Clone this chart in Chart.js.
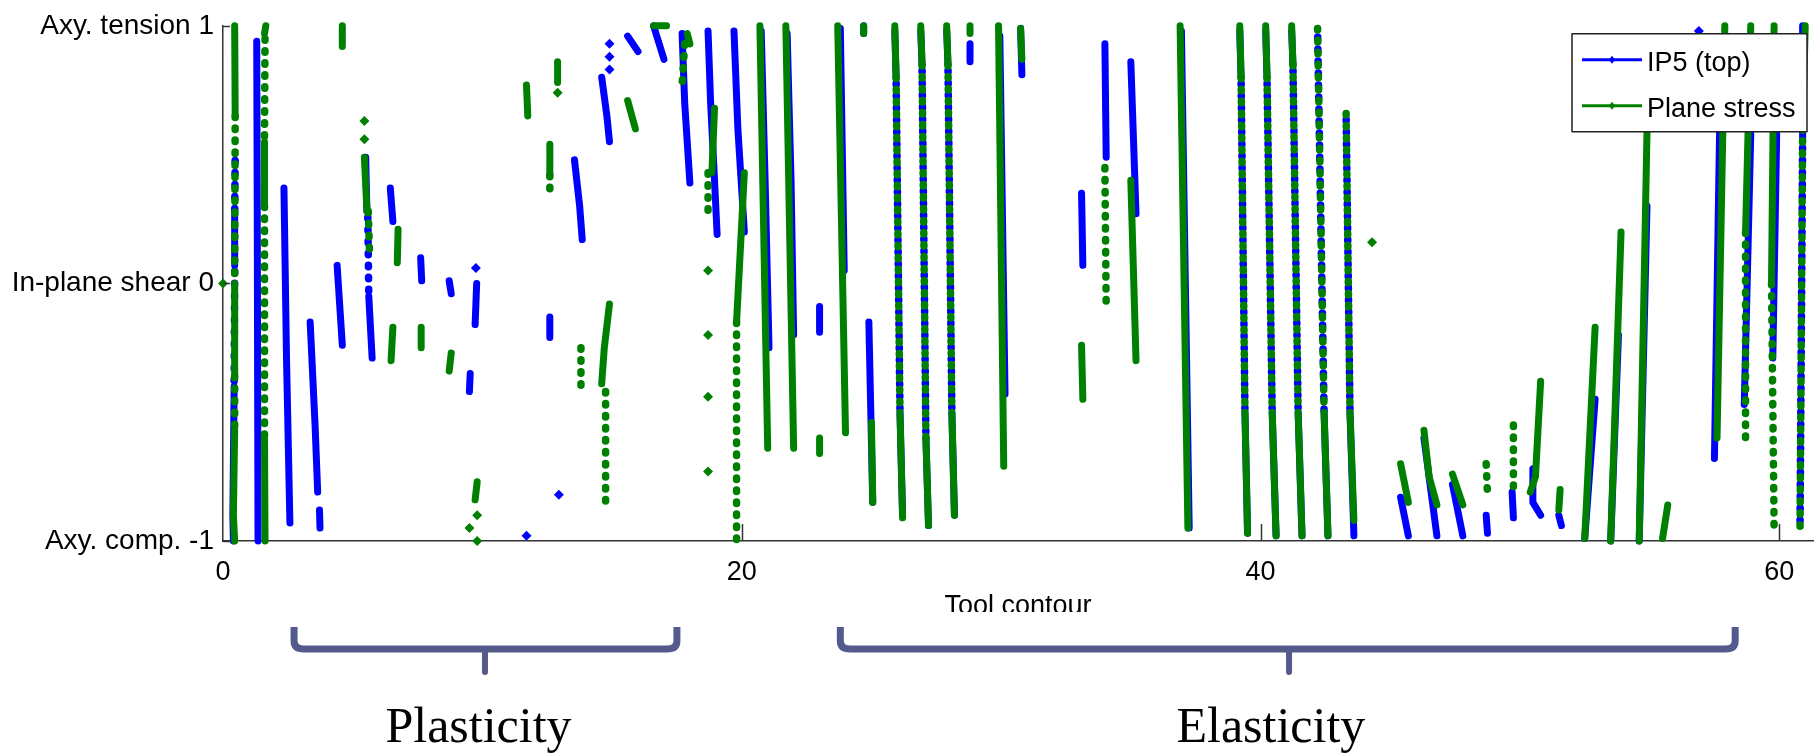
<!DOCTYPE html>
<html>
<head>
<meta charset="utf-8">
<title>IP5 vs plane stress along the tool contour</title>
<script src="https://cdn.jsdelivr.net/npm/chart.js@4.4.0/dist/chart.umd.min.js"></script>
<style>
  html, body { margin: 0; padding: 0; background: #fff; }
  #wrap { width: 1820px; height: 753px; position: relative; }
</style>
</head>
<body>
<div id="wrap"><canvas id="stressChart"></canvas></div>
<script>
// axis ticks
const xTicks = [0, 20, 40, 60];
const yTicks = [-1, 0, 1];
const yTickLabels = ['Axy. comp. -1', 'In-plane shear 0', 'Axy. tension 1'];
const seriesNames = ['IP5 (top)', 'Plane stress'];

// regions marked under the axis
const regionNames = ['Plasticity', 'Elasticity'];
const regionFrom = [2.74, 23.8];
const regionTo = [17.5, 58.3];
const regionTip = [10.1, 41.1];
const regionLabelX = [9.85, 40.4];

// IP5 (top): streaks, [contour, stress state]
const ip5Dense = [
  [[0.45, 0.27], [0.45, 0.07]],
  [[0.43, -0.4], [0.38, -0.9], [0.4, -1.0]],
  [[1.3, 0.94], [1.32, 0.3], [1.35, -1.0]],
  [[2.35, 0.37], [2.45, -0.3], [2.58, -0.93]],
  [[3.36, -0.15], [3.55, -0.55], [3.65, -0.81]],
  [[3.72, -0.88], [3.74, -0.95]],
  [[4.4, 0.07], [4.6, -0.24]],
  [[5.5, 0.49], [5.55, 0.28]],
  [[5.62, -0.05], [5.75, -0.29]],
  [[6.45, 0.37], [6.55, 0.24]],
  [[7.62, 0.1], [7.66, 0.01]],
  [[8.72, 0.01], [8.8, -0.04]],
  [[9.78, 0.0], [9.72, -0.16]],
  [[9.53, -0.35], [9.5, -0.42]],
  [[12.6, -0.13], [12.6, -0.21]],
  [[13.55, 0.48], [13.75, 0.3], [13.85, 0.17]],
  [[14.6, 0.8], [14.8, 0.65], [14.9, 0.55]],
  [[15.6, 0.96], [16.0, 0.9]],
  [[16.6, 1.0], [17.0, 0.87]],
  [[17.7, 0.97], [17.8, 0.7], [18.0, 0.39]],
  [[18.7, 0.98], [18.8, 0.7], [18.95, 0.4], [19.05, 0.19]],
  [[19.7, 0.98], [19.85, 0.6], [20.1, 0.2]],
  [[20.75, 0.98], [20.9, 0.4], [21.05, -0.25]],
  [[21.75, 0.97], [21.9, 0.4], [22.0, -0.2]],
  [[23.0, -0.09], [23.0, -0.19]],
  [[23.8, 0.99], [23.95, 0.05]],
  [[24.7, 1.0], [24.7, 0.97]],
  [[24.9, -0.15], [25.05, -0.85]],
  [[25.9, 0.98], [25.95, 0.8]], [[26.1, -0.5], [26.2, -0.9]],
  [[26.9, 0.98], [26.95, 0.85]], [[27.1, -0.6], [27.2, -0.94]],
  [[27.9, 0.98], [27.95, 0.85]], [[28.1, -0.5], [28.2, -0.9]],
  [[28.8, 0.93], [28.8, 0.86]],
  [[29.95, 0.96], [30.15, -0.43]],
  [[30.75, 0.99], [30.8, 0.81]],
  [[33.1, 0.35], [33.15, 0.07]],
  [[34.0, 0.93], [34.05, 0.49]],
  [[35.0, 0.86], [35.2, 0.27]],
  [[36.95, 0.98], [37.25, -0.95]],
  [[39.2, 0.98], [39.25, 0.8]], [[39.4, -0.5], [39.5, -0.97]],
  [[40.2, 0.98], [40.25, 0.8]], [[40.45, -0.5], [40.6, -0.98]],
  [[41.2, 0.98], [41.25, 0.85]], [[41.45, -0.5], [41.6, -0.98]],
  [[42.45, -0.5], [42.6, -0.98]],
  [[43.45, -0.5], [43.6, -0.98]],
  [[45.4, -0.83], [45.7, -0.98]],
  [[46.3, -0.6], [46.8, -0.98]],
  [[47.4, -0.78], [47.8, -0.98]],
  [[48.7, -0.9], [48.75, -0.97]],
  [[49.7, -0.81], [49.75, -0.91]],
  [[50.5, -0.72], [50.5, -0.85], [50.8, -0.9]],
  [[51.5, -0.9], [51.6, -0.94]],
  [[52.9, -0.45], [52.5, -0.99]],
  [[53.8, -0.2], [53.5, -1.0]],
  [[54.9, 0.3], [54.6, -1.0]],
  [[57.7, 0.6], [57.5, -0.68]],
  [[58.9, 0.58], [58.65, -0.47]],
  [[59.9, 0.58], [59.75, -0.29]],
  [[60.9, 1.0], [60.9, 0.55]]
];
const ip5Sparse = [
  [[0.47, 0.5], [0.45, 0.27]],
  [[0.45, 0.07], [0.43, -0.4]],
  [[5.58, 0.28], [5.62, -0.05]],
  [[25.95, 0.8], [26.1, -0.5]],
  [[26.95, 0.85], [27.1, -0.6]],
  [[27.95, 0.85], [28.1, -0.5]],
  [[39.25, 0.8], [39.4, -0.5]],
  [[40.25, 0.8], [40.45, -0.5]],
  [[41.25, 0.85], [41.45, -0.5]],
  [[42.2, 0.98], [42.45, -0.5]],
  [[43.3, 0.66], [43.45, -0.5]],
  [[60.9, 0.55], [60.8, -0.95]]
];
const ip5Dots = [[9.75, 0.06], [11.7, -0.98], [12.95, -0.82], [14.9, 0.93], [14.9, 0.88], [14.9, 0.83], [56.9, 0.98]];

// Plane stress
const psDense = [
  [[0.45, 1.0], [0.47, 0.65]],
  [[0.45, 0.0], [0.45, -0.36]],
  [[0.45, -0.57], [0.4, -0.9], [0.45, -1.0]],
  [[1.65, 1.0], [1.6, 0.97]],
  [[1.6, 0.55], [1.6, 0.3]],
  [[1.6, -0.6], [1.62, -1.0]],
  [[4.6, 1.0], [4.6, 0.92]],
  [[5.45, 0.49], [5.55, 0.28]],
  [[6.75, 0.21], [6.72, 0.08]],
  [[6.55, -0.17], [6.48, -0.3]],
  [[7.64, -0.17], [7.64, -0.25]],
  [[8.8, -0.27], [8.72, -0.34]],
  [[9.8, -0.77], [9.72, -0.84]],
  [[11.7, 0.77], [11.75, 0.65]],
  [[12.9, 0.86], [12.9, 0.78]],
  [[12.6, 0.54], [12.6, 0.42]],
  [[14.9, -0.08], [14.7, -0.25], [14.6, -0.39]],
  [[15.6, 0.71], [15.9, 0.6]],
  [[16.6, 1.0], [17.1, 1.0]],
  [[17.9, 0.97], [18.0, 0.93]],
  [[18.95, 0.68], [18.85, 0.43]],
  [[20.1, 0.43], [19.8, -0.15]],
  [[20.7, 1.0], [21.0, -0.64]],
  [[21.7, 1.0], [22.0, -0.64]],
  [[23.0, -0.6], [23.0, -0.66]],
  [[23.7, 1.0], [24.0, -0.58]],
  [[24.7, 1.0], [24.7, 0.97]],
  [[25.0, -0.54], [25.05, -0.85]],
  [[25.9, 1.0], [25.95, 0.8]], [[26.1, -0.5], [26.2, -0.91]],
  [[26.9, 1.0], [26.95, 0.85]], [[27.1, -0.6], [27.2, -0.94]],
  [[27.9, 1.0], [27.95, 0.85]], [[28.1, -0.5], [28.2, -0.9]],
  [[28.8, 1.0], [28.8, 0.97]],
  [[29.9, 1.0], [30.1, -0.71]],
  [[30.75, 0.99], [30.8, 0.87]],
  [[33.1, -0.24], [33.15, -0.45]],
  [[35.0, 0.4], [35.2, -0.3]],
  [[36.9, 1.0], [37.2, -0.95]],
  [[39.2, 1.0], [39.25, 0.8]], [[39.4, -0.5], [39.5, -0.97]],
  [[40.2, 1.0], [40.25, 0.8]], [[40.45, -0.5], [40.6, -0.98]],
  [[41.2, 1.0], [41.25, 0.85]], [[41.45, -0.5], [41.6, -0.98]],
  [[42.45, -0.5], [42.6, -0.98]],
  [[43.45, -0.5], [43.6, -0.92]],
  [[45.4, -0.7], [45.7, -0.85]],
  [[46.3, -0.57], [46.5, -0.75], [46.8, -0.86]],
  [[47.4, -0.74], [47.8, -0.86]],
  [[50.8, -0.38], [50.6, -0.75], [50.4, -0.81]],
  [[51.55, -0.8], [51.5, -0.88]],
  [[52.9, -0.17], [52.5, -0.99]],
  [[53.9, 0.2], [53.5, -1.0]],
  [[54.9, 0.59], [54.6, -1.0]],
  [[55.7, -0.86], [55.5, -0.99]],
  [[57.9, 1.0], [57.6, -0.6]],
  [[58.9, 1.0], [58.7, 0.2]],
  [[59.8, 1.0], [59.7, 0.0]],
  [[61.0, 1.0], [60.9, 0.6]]
];
const psSparse = [
  [[0.47, 0.65], [0.45, 0.0]],
  [[0.45, -0.36], [0.45, -0.57]],
  [[1.62, 0.95], [1.6, 0.55]],
  [[1.6, 0.3], [1.6, -0.6]],
  [[5.6, 0.28], [5.65, 0.12]],
  [[12.6, 0.42], [12.6, 0.35]],
  [[13.8, -0.25], [13.8, -0.42]],
  [[14.75, -0.42], [14.75, -0.87]],
  [[17.8, 0.93], [17.7, 0.77]],
  [[18.7, 0.43], [18.7, 0.27]],
  [[19.8, -0.15], [19.8, -1.0]],
  [[25.95, 0.8], [26.1, -0.5]],
  [[26.95, 0.85], [27.1, -0.6]],
  [[27.95, 0.85], [28.1, -0.5]],
  [[34.0, 0.45], [34.05, -0.09]],
  [[39.25, 0.8], [39.4, -0.5]],
  [[40.25, 0.8], [40.45, -0.5]],
  [[41.25, 0.85], [41.45, -0.5]],
  [[42.2, 0.99], [42.45, -0.5]],
  [[43.3, 0.66], [43.45, -0.5]],
  [[48.7, -0.7], [48.75, -0.82]],
  [[49.75, -0.55], [49.75, -0.81]],
  [[58.7, 0.2], [58.7, -0.6]],
  [[59.7, 0.0], [59.8, -0.94]],
  [[60.9, 0.6], [60.8, -0.96]]
];
const psDots = [[0, 0], [5.45, 0.63], [5.45, 0.56], [9.8, -0.9], [9.5, -0.95], [9.8, -1.0], [12.9, 0.74],
  [18.7, 0.05], [18.7, -0.2], [18.7, -0.44], [18.7, -0.73], [44.3, 0.16]];

const BLUE = 'rgb(0, 0, 255)';
const GREEN = 'rgb(0, 128, 0)';
const BRACE = '#545a8c';
const FONT = "'Liberation Sans', Arial, sans-serif";

// streaks -> one point list, null between streaks so the line breaks
function toPoints(streaks) {
  const pts = [];
  streaks.forEach(s => {
    s.forEach(p => pts.push({ x: p[0], y: p[1] }));
    pts.push({ x: s[s.length - 1][0], y: null });
  });
  return pts;
}

function dotPoints(list) {
  return list.map(p => ({ x: p[0], y: p[1] }));
}

function makeSeries(name, color, dense, sparse, dots, order, dashOffset) {
  return [
    {
      label: name, data: toPoints(dense), borderColor: color, borderWidth: 7,
      borderCapStyle: 'round', borderJoinStyle: 'round', pointRadius: 0, order: order, clip: false
    },
    {
      label: name, data: toPoints(sparse), borderColor: color, borderWidth: 7.5,
      borderDash: [1.5, 10.5], borderDashOffset: dashOffset, borderCapStyle: 'round',
      pointRadius: 0, order: order, clip: false
    },
    {
      label: name, data: dotPoints(dots), showLine: false, pointStyle: 'rectRot',
      pointRadius: 5, backgroundColor: color, borderColor: color, borderWidth: 0, order: order, clip: false
    }
  ];
}

const overlayPlugin = {
  id: 'overlay',
  afterDatasetsDraw(chart) {
    const { ctx, chartArea: a, scales: { x, y } } = chart;
    ctx.save();
    ctx.strokeStyle = '#333';
    ctx.lineWidth = 1.5;
    // MATLAB style inward ticks
    xTicks.forEach(v => {
      if (v === 0) return;
      const px = Math.round(x.getPixelForValue(v)) + 0.5;
      ctx.beginPath();
      ctx.moveTo(px, a.bottom);
      ctx.lineTo(px, a.bottom - 17);
      ctx.stroke();
    });
    yTicks.forEach(v => {
      const py = Math.round(y.getPixelForValue(v)) + 0.5;
      ctx.beginPath();
      ctx.moveTo(a.left, py);
      ctx.lineTo(a.left + 7, py);
      ctx.stroke();
    });
    ctx.restore();
  },
  afterDraw(chart) {
    const { ctx, chartArea: a, scales: { x } } = chart;
    ctx.save();

    // the axis title is cut off at the bottom in the original
    const midX = (a.left + a.right) / 2;
    ctx.fillStyle = '#fff';
    ctx.fillRect(midX - 120, a.bottom + 71, 240, 15);

    // braces + region names
    ctx.strokeStyle = BRACE;
    ctx.lineJoin = 'round';
    regionNames.forEach((name, i) => {
      const xl = x.getPixelForValue(regionFrom[i]);
      const xr = x.getPixelForValue(regionTo[i]);
      const xm = x.getPixelForValue(regionTip[i]);
      const top = a.bottom + 86, bar = a.bottom + 108, tip = a.bottom + 131;
      ctx.lineWidth = 7;
      ctx.lineCap = 'butt';
      ctx.beginPath();
      ctx.moveTo(xl, top);
      ctx.lineTo(xl, bar - 8);
      ctx.quadraticCurveTo(xl, bar, xl + 10, bar);
      ctx.lineTo(xr - 10, bar);
      ctx.quadraticCurveTo(xr, bar, xr, bar - 8);
      ctx.lineTo(xr, top);
      ctx.stroke();
      ctx.lineWidth = 6;
      ctx.lineCap = 'round';
      ctx.beginPath();
      ctx.moveTo(xm, bar);
      ctx.lineTo(xm, tip);
      ctx.stroke();

      ctx.fillStyle = '#000';
      ctx.font = "50px 'Liberation Serif', 'Times New Roman', serif";
      ctx.textAlign = 'center';
      ctx.textBaseline = 'alphabetic';
      ctx.fillText(name, x.getPixelForValue(regionLabelX[i]), a.bottom + 201);
    });

    // legend box, drawn opaque over the data like the original
    const lw = 235, lh = 98;
    const lx = a.right - lw - 6, ly = a.top + 8;
    ctx.fillStyle = '#fff';
    ctx.fillRect(lx, ly, lw, lh);
    ctx.strokeStyle = '#222';
    ctx.lineWidth = 1.5;
    ctx.strokeRect(lx, ly, lw, lh);
    const colors = [BLUE, GREEN];
    seriesNames.forEach((name, i) => {
      const ry = ly + 26 + i * 46;
      ctx.strokeStyle = colors[i];
      ctx.lineWidth = 3;
      ctx.lineCap = 'butt';
      ctx.beginPath();
      ctx.moveTo(lx + 10, ry);
      ctx.lineTo(lx + 70, ry);
      ctx.stroke();
      ctx.fillStyle = colors[i];
      ctx.beginPath();
      ctx.moveTo(lx + 40, ry - 4);
      ctx.lineTo(lx + 43, ry);
      ctx.lineTo(lx + 40, ry + 4);
      ctx.lineTo(lx + 37, ry);
      ctx.closePath();
      ctx.fill();
      ctx.fillStyle = '#000';
      ctx.font = '27px ' + FONT;
      ctx.textAlign = 'left';
      ctx.textBaseline = 'middle';
      ctx.fillText(name, lx + 75, ry + 4);
    });
    ctx.restore();
  }
};

const ctx = document.getElementById('stressChart').getContext('2d');
window.stressChart = new Chart(ctx, {
  type: 'line',
  data: {
    datasets: [
      ...makeSeries(seriesNames[1], GREEN, psDense, psSparse, psDots, 0, 0),
      ...makeSeries(seriesNames[0], BLUE, ip5Dense, ip5Sparse, ip5Dots, 1, 6)
    ]
  },
  options: {
    responsive: true,
    maintainAspectRatio: false,
    animation: false,
    events: [],
    layout: { padding: { left: 0, right: 7, top: 21, bottom: 130 } },
    plugins: {
      legend: { display: false },
      tooltip: { enabled: false }
    },
    scales: {
      x: {
        type: 'linear',
        min: 0,
        max: 61.3,
        afterBuildTicks: s => { s.ticks = xTicks.map(v => ({ value: v })); },
        afterFit: s => { s.height = 82; },
        grid: { display: false, drawTicks: false },
        border: { display: true, color: '#333', width: 1.5 },
        ticks: { color: '#000', padding: 15, maxRotation: 0, font: { family: FONT, size: 27 } },
        title: {
          display: true,
          text: 'Tool contour',
          color: '#000',
          padding: { top: 0, bottom: 0 },
          font: { family: FONT, size: 27 }
        }
      },
      y: {
        type: 'linear',
        min: -1,
        max: 1,
        afterBuildTicks: s => { s.ticks = yTicks.map(v => ({ value: v })); },
        afterFit: s => { s.width = 223; },
        grid: { display: false, drawTicks: false },
        border: { display: true, color: '#333', width: 1.5 },
        ticks: {
          color: '#000',
          padding: 9,
          font: { family: FONT, size: 28 },
          callback: v => yTickLabels[yTicks.indexOf(v)]
        }
      }
    }
  },
  plugins: [overlayPlugin]
});
</script>
</body>
</html>
